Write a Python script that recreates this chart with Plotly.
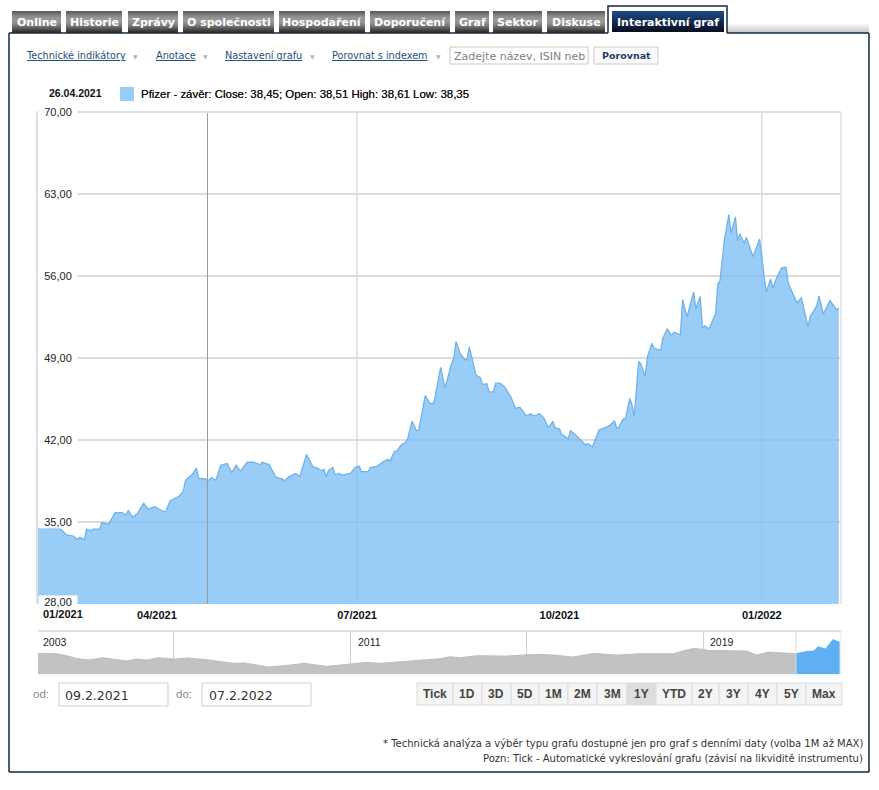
import pandas as pd
import plotly.graph_objects as go

W, H = 879, 790

# hlavni graf: dny od zacatku okna a cena
start_date = pd.Timestamp("2021-02-06")
day_offsets = [
    0, 10, 13, 16, 18, 19, 21, 22, 24, 25, 28, 29, 32, 35, 38, 40, 41, 43, 45, 48, 50, 53, 57, 58, 60, 63, 64, 66, 67, 69,
    70, 72, 73, 76, 77, 79, 80, 81, 83, 86, 88, 90, 92, 95, 98, 101, 102, 105, 108, 110, 111, 112, 114, 117, 119, 122,
    125, 127, 129, 130, 131, 132, 134, 135, 137, 138, 142, 144, 146, 147, 150, 151, 154, 157, 159, 160, 162, 163, 165,
    167, 168, 170, 172, 173, 176, 178, 179, 180, 183, 185, 188, 189, 190, 192, 194, 195, 196, 198, 199, 201, 202, 204,
    205, 207, 208, 210, 212, 215, 217, 219, 222, 224, 225, 228, 230, 232, 234, 235, 237, 238, 241, 242, 244, 249, 250,
    252, 255, 257, 259, 260, 262, 263, 264, 266, 267, 269, 270, 271, 273, 274, 276, 277, 279, 280, 283, 284, 286, 288,
    289, 292, 293, 295, 298, 299, 301, 302, 303, 305, 308, 309, 310, 312, 314, 315, 317, 318, 319, 321, 322, 324, 325,
    328, 330, 331, 333, 334, 336, 338, 340, 341, 345, 347, 350, 351, 354, 355, 357, 358, 360, 363, 364,
]
close_values = [
    34.48, 34.43, 33.9, 33.8, 33.5, 33.7, 33.5, 34.4, 34.25, 34.4, 34.4, 34.95, 34.8, 35.8, 35.8, 35.6, 36.0, 35.4, 35.7,
    36.6, 36.1, 36.3, 35.9, 35.9, 36.8, 37.15, 37.2, 37.6, 38.55, 38.9, 39.05, 39.6, 38.7, 38.7, 38.5, 38.8, 38.6, 38.65,
    39.85, 40.0, 39.2, 39.85, 39.35, 40.1, 40.1, 39.9, 40.1, 39.9, 38.85, 38.7, 38.7, 38.5, 38.85, 39.15, 38.9, 40.75,
    39.7, 39.6, 39.35, 39.5, 38.85, 39.4, 39.65, 39.05, 39.15, 39.0, 39.15, 39.65, 39.75, 39.3, 39.3, 39.65, 39.75, 40.15,
    40.35, 40.2, 41.05, 41.05, 41.55, 41.8, 42.1, 43.6, 42.8, 42.8, 45.8, 45.15, 45.1, 45.2, 48.2, 46.45, 48.55, 49.0,
    50.4, 49.35, 48.85, 48.85, 49.95, 48.4, 47.55, 47.35, 46.75, 46.8, 46.1, 46.1, 46.85, 46.85, 46.55, 45.65, 44.7, 44.8,
    44.05, 44.25, 44.05, 44.25, 43.85, 43.05, 43.6, 43.05, 42.95, 42.5, 42.1, 42.8, 42.5, 41.55, 41.7, 41.4, 42.85, 43.0,
    43.2, 43.25, 43.65, 43.0, 43.1, 43.8, 43.8, 45.55, 45.0, 44.0, 48.7, 48.5, 47.45, 49.1, 50.25, 49.85, 49.65, 50.7,
    51.5, 50.9, 51.2, 51.0, 54.0, 52.5, 54.65, 53.2, 54.25, 51.55, 51.75, 51.5, 52.8, 55.3, 55.6, 59.1, 61.25, 59.65,
    61.05, 59.0, 59.6, 58.8, 59.3, 58.25, 57.65, 59.15, 55.95, 54.6, 55.75, 54.95, 55.95, 56.7, 56.75, 55.4, 53.7, 54.15,
    51.65, 52.55, 53.45, 54.3, 52.75, 53.1, 53.9, 53.1, 53.25,
]
y_ticks = [28, 35, 42, 49, 56, 63, 70]
x_tick_dates = ["2021-04-01", "2021-07-01", "2021-10-01", "2022-01-01"]
x_tick_labels = ["04/2021", "07/2021", "10/2021", "01/2022"]
grid_dates = ["2021-07-01", "2022-01-01"]
cursor_date = "2021-04-24"

# navigator: cela historie
nav_years = [
    2003.92, 2004.30, 2004.57, 2004.79, 2005.06, 2005.40, 2005.93, 2006.15, 2006.38, 2006.64, 2007.0, 2007.32, 2007.82,
    2008.34, 2008.61, 2008.80, 2009.14, 2009.56, 2009.97, 2010.46, 2010.99, 2011.37, 2011.67, 2012.12, 2012.73, 2013.03,
    2013.26, 2013.49, 2013.86, 2014.24, 2014.54, 2015.04, 2015.30, 2015.60, 2016.05, 2016.51, 2017.04, 2017.57, 2018.32,
    2018.55, 2018.78, 2019.0, 2019.53, 2019.99, 2020.21, 2020.48, 2020.74, 2021.10,
]
nav_values = [
    36.4, 36.4, 32.3, 27.6, 24.6, 28.7, 22.9, 26.4, 24.6, 28.7, 26.4, 28.2, 24.6, 18.8, 19.4, 16.4, 12.3, 15.2, 18.8, 13.5,
    17.6, 20.5, 18.8, 21.7, 25.8, 27.0, 30.5, 28.7, 32.3, 31.7, 31.7, 34.0, 34.6, 33.4, 29.9, 36.4, 33.4, 35.8, 35.8, 41.1,
    45.2, 43.4, 41.1, 40.5, 33.4, 38.7, 37.5, 35.8,
]
window_years = [2021.10, 2021.35, 2021.50, 2021.60, 2021.77, 2021.94, 2022.09]
window_values = [35.8, 39.9, 40.5, 48.1, 44.0, 61.0, 55.7]
nav_grid_years = [2007, 2011, 2015, 2019]

tabs = [
    ("Online", 12, 61), ("Historie", 66, 122), ("Zprávy", 128, 178), ("O společnosti", 183, 274),
    ("Hospodaření", 279, 365), ("Doporučení", 370, 450), ("Graf", 455, 489), ("Sektor", 493, 542),
    ("Diskuse", 547, 605),
]
range_buttons = [
    ("Tick", 417, 453), ("1D", 453, 482), ("3D", 482, 511), ("5D", 511, 539), ("1M", 539, 568), ("2M", 568, 597),
    ("3M", 597, 627), ("1Y", 627, 656), ("YTD", 656, 692), ("2Y", 692, 719), ("3Y", 719, 748), ("4Y", 748, 777),
    ("5Y", 777, 806), ("Max", 806, 842),
]
menu_links = [("Technické indikátory", 23.5, 135), ("Anotace", 153.5, 205), ("Nastavení grafu", 222.5, 312), ("Porovnat s indexem", 329.5, 438)]

VERDANA = "DejaVu Sans"
ARIAL = "Liberation Sans"
BLUE_FILL = "rgba(124,190,245,0.78)"
NAVY = "#10293f"


def px(x):
    return x / W


def py(y):
    return 1 - y / H


def rect(x0, y0, x1, y1, fill, line=None, width=1):
    fig.add_shape(type="rect", xref="paper", yref="paper", x0=px(x0), x1=px(x1), y0=py(y0), y1=py(y1),
                  fillcolor=fill, line=dict(color=line or fill, width=width if line else 0), layer="above")


def hline(x0, x1, y, color, width=1):
    fig.add_shape(type="line", xref="paper", yref="paper", x0=px(x0), x1=px(x1), y0=py(y), y1=py(y),
                  line=dict(color=color, width=width), layer="above")


def vline(x, y0, y1, color, width=1):
    fig.add_shape(type="line", xref="paper", yref="paper", x0=px(x), x1=px(x), y0=py(y0), y1=py(y1),
                  line=dict(color=color, width=width), layer="above")


def label(x, y, text, size=11, color="#222", family=ARIAL, anchor="left", shadow=None):
    font = dict(size=size, color=color, family=family)
    if shadow:
        font["shadow"] = shadow
    fig.add_annotation(xref="paper", yref="paper", x=px(x), y=py(y), text=text, showarrow=False, xanchor=anchor,
                       yanchor="middle", borderpad=0, font=font)


def gradient(x0, y0, x1, colors):
    # po radcich, shapes gradient neumi
    for i, c in enumerate(colors):
        rect(x0, y0 + i, x1, y0 + i + 1, c)


fig = go.Figure()

dates = [start_date + pd.Timedelta(days=d) for d in day_offsets]
fig.add_trace(go.Scatter(x=dates, y=close_values, mode="lines", fill="tozeroy", fillcolor=BLUE_FILL,
                         line=dict(color="#70b3e8", width=1.3), name="Pfizer - závěr", hoverinfo="x+y"))
fig.add_trace(go.Scatter(x=nav_years, y=nav_values, mode="lines", fill="tozeroy", fillcolor="#c2c2c2",
                         line=dict(color="#bdbdbd", width=1), xaxis="x2", yaxis="y2", hoverinfo="skip"))
fig.add_trace(go.Scatter(x=window_years, y=window_values, mode="lines", fill="tozeroy", fillcolor="#5fb0f3",
                         line=dict(color="#5fb0f3", width=1), xaxis="x2", yaxis="y2", hoverinfo="skip"))

fig.update_layout(
    width=W, height=H, margin=dict(l=0, r=0, t=0, b=0), paper_bgcolor="white", plot_bgcolor="white",
    showlegend=False, separators=", ", font=dict(family=ARIAL, size=11, color="#222"),
    xaxis=dict(domain=[px(37), px(841)], range=["2021-02-05 12:00", "2022-02-06"], type="date", tickvals=x_tick_dates,
               ticktext=x_tick_labels, ticks="", showgrid=False, zeroline=False, showline=False, ticklabelstandoff=3,
               tickfont=dict(family=ARIAL, size=11, color="#111", weight="bold")),
    yaxis=dict(domain=[py(604), py(112)], range=[28, 70], tickvals=y_ticks, showticklabels=False, ticks="",
               gridcolor="#dcdcdc", gridwidth=1.5, zeroline=False, showline=False),
    xaxis2=dict(domain=[px(38), px(841)], range=[2003.92, 2022.12], anchor="y2", tickvals=nav_grid_years,
                showticklabels=False, ticks="", gridcolor="#d0d0d0", zeroline=False, showline=False),
    yaxis2=dict(domain=[py(674), py(631)], range=[0, 76], anchor="x2", showticklabels=False, showgrid=False,
                zeroline=False, showline=False, ticks=""),
)

# vertikalni mrizka a kurzor
for d in grid_dates:
    fig.add_shape(type="line", xref="x", yref="y", x0=d, x1=d, y0=28, y1=70, line=dict(color="#dcdcdc", width=1.5), layer="between")
fig.add_shape(type="line", xref="x", yref="y", x0=cursor_date, x1=cursor_date, y0=28, y1=70, line=dict(color="#9a9a9a", width=1), layer="above")

# ramecek grafu
vline(37, 112, 604, "#dedede", 2)
vline(841, 112, 604, "#e8e8e8", 2)
hline(37, 841, 112, "#e0e0e0", 2)
hline(38, 841, 631, "#e2e2e2", 2)
hline(38, 841, 675, "#eeeeee", 1)
vline(796, 631, 675, "#d8d8d8", 1)
vline(841, 631, 675, "#e8e8e8", 1)

# popisky osy y s bilym podkladem
for t in y_ticks:
    fig.add_annotation(xref="paper", yref="y", x=px(38), y=t, text=f"{t},00", showarrow=False, xanchor="left", yanchor="middle",
                       width=38, align="center", bgcolor="white", borderpad=0, yshift=0 if t != 28 else 2,
                       font=dict(size=11, color="#222", family=ARIAL))
label(42, 614, "<b>01/2021</b>", size=11, color="#111")

# hlavicka s kurzorem
label(48, 93, "<b>26.04.2021</b>", size=10.5, color="#111")
rect(120, 87, 134, 101, "#99ccf7")
label(140, 94, "Pfizer - závěr: Close: 38,45; Open: 38,51 High: 38,61 Low: 38,35", size=11.45, color="#111",
      shadow="0 0 0.6px #333")

# navigator popisky
rect(706, 636, 727, 650, "white")
label(42, 642, "2003", size=10.5, color="#222")
label(357, 642, "2011", size=10.5, color="#222")
label(709, 642, "2019", size=10.5, color="#222")

# ousko a ramecek
for i, c in enumerate(["#fbfbfb", "#f6f6f6", "#f0f0f0", "#ebebeb", "#e6e6e6", "#e0e0e0", "#dadada", "#d4d4d4", "#cecece", "#c8c8c8"]):
    rect(727, 23 + i, 869, 24 + i, c)
hline(9, 608, 33, NAVY, 1.5)
hline(727, 869, 33, NAVY, 1.5)
vline(9, 33, 772, NAVY, 1.5)
vline(869, 33, 772, NAVY, 1.5)
hline(9, 869, 772, NAVY, 1.5)

tab_colors = ["#5c5c5c", "#666666", "#707070", "#7a7a7a", "#848484", "#8c8c8c", "#929292", "#969696", "#989898", "#989898", "#969696",
              "#929292", "#8c8c8c", "#848484", "#7a7a7a", "#707070", "#646464", "#585858", "#4c4c4c", "#404040", "#343434", "#2a2a2a"]
for name, x0, x1 in tabs:
    gradient(x0, 11, x1, tab_colors)
    label((x0 + x1) / 2, 22, f"<b>{name}</b>", size=11, color="white", family=VERDANA, anchor="center")

active_colors = ["#1d4a86", "#1c4781", "#1b447c", "#1a4177", "#193e72", "#183b6d", "#173868", "#163563", "#15325e", "#142f59",
                 "#132c54", "#12294f", "#11264a", "#102345", "#0f2040", "#0e1d3b", "#0d1a36", "#0c1731", "#0b142c", "#0a1127", "#0a1024"]
gradient(612, 11, 724, active_colors)
fig.add_shape(type="path", xref="paper", yref="paper", layer="above", line=dict(color=NAVY, width=1.5),
              path=f"M {px(608)} {py(33)} L {px(608)} {py(6)} L {px(727)} {py(6)} L {px(727)} {py(33)}")
label(668, 22, "<b>Interaktivní graf</b>", size=11, color="white", family=VERDANA, anchor="center")

# menu nad grafem
for text, x0, arrow_x in menu_links:
    fig.add_annotation(xref="paper", yref="paper", x=px(x0), y=py(55), text=text, showarrow=False, xanchor="left", yanchor="middle",
                       font=dict(size=9.7, color="#1f4e79", family=VERDANA, lineposition="under"))
    label(arrow_x, 56, "▼", size=6, color="#b5b5b5", family=VERDANA, anchor="center")

rect(450, 47, 588, 64, "white", "#c8c8c8")
label(453, 56, "Zadejte název, ISIN neb", size=11, color="#808080", family=VERDANA)
rect(594, 47, 658, 64, "#fafafa", "#cccccc")
label(626, 55, "<b>Porovnat</b>", size=9.5, color="#1f3a68", family=VERDANA, anchor="center")

# datumy
label(32, 694, "od:", size=11.5, color="#8a8a8a", family=ARIAL)
rect(59, 683, 168, 706, "white", "#cfcfcf")
label(64, 695, "09.2.2021", size=12.5, color="#333", family=VERDANA)
label(175, 694, "do:", size=11.5, color="#8a8a8a", family=ARIAL)
rect(202, 683, 311, 706, "white", "#cfcfcf")
label(208, 695, "07.2.2022", size=12.5, color="#333", family=VERDANA)

# tlacitka rozsahu
for name, x0, x1 in range_buttons:
    rect(x0, 683, x1, 705, "#dddddd" if name == "1Y" else "#f4f4f4", "#dcdcdc")
    label((x0 + x1) / 2, 694, f"<b>{name}</b>", size=12, color="#444", family=ARIAL, anchor="center")

# poznamky
label(864, 743, "* Technická analýza a výběr typu grafu dostupné jen pro graf s denními daty (volba 1M až MAX)", size=10,
      color="#333", family=VERDANA, anchor="right")
label(864, 758, "Pozn: Tick - Automatické vykreslování grafu (závisí na likviditě instrumentu)", size=10,
      color="#333", family=VERDANA, anchor="right")

# stranka ma jinak okraj 8 px
fig.write_html("out.html", config={"displayModeBar": False},
               post_script="document.body.style.margin='0';document.body.style.overflow='hidden';")
